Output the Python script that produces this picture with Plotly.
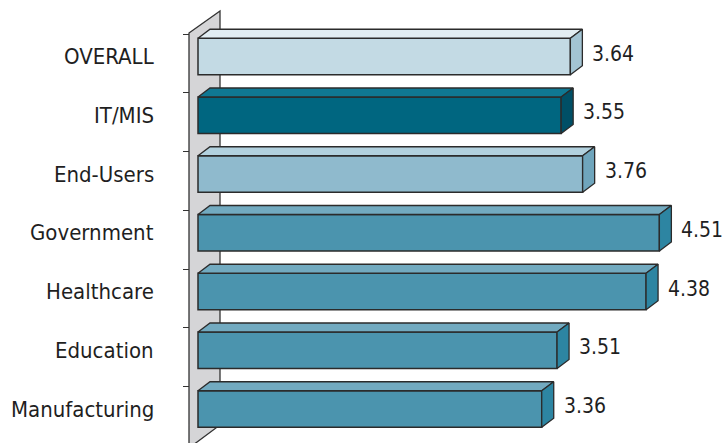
import plotly.graph_objects as go

# Survey scores by respondent group
categories = ["OVERALL", "IT/MIS", "End-Users", "Government", "Healthcare", "Education", "Manufacturing"]
scores = [3.64, 3.55, 3.76, 4.51, 4.38, 3.51, 3.36]
value_labels = ["3.64", "3.55", "3.76", "4.51", "4.38", "3.51", "3.36"]

# (front, top, side) colours per bar
palette = {
    "overall": ("#c3dae4", "#e2edf2", "#a3c4d3"),
    "it": ("#006680", "#0f7893", "#004f66"),
    "users": ("#8fbacd", "#b2d1de", "#6fa5bc"),
    "sector": ("#4b94ae", "#72aac0", "#2d85a2"),
}
bar_style = ["overall", "it", "users", "sector", "sector", "sector", "sector"]

W, H = 722, 443
PX_X = 102.3            # pixels per score unit
X0_PX = 198.0           # pixel position of score 0
PX_Y = 58.75            # pixels per category slot
Y0_PX = 56.5            # pixel centre of first category

x_range = [-X0_PX / PX_X, (W - X0_PX) / PX_X]
y_range = [(H - Y0_PX) / PX_Y, -Y0_PX / PX_Y]   # reversed: first category on top

bar_w = 36.5 / PX_Y
dx = 12 / PX_X          # depth offset (right)
dy = 9 / PX_Y           # depth offset (up)
edge = "#2b2b2b"
font_family = "DejaVu Sans Condensed, Liberation Sans Narrow, sans-serif"

ys = list(range(len(categories)))
fig = go.Figure()

# front faces
fig.add_trace(go.Bar(
    x=scores, y=ys, orientation="h", width=bar_w,
    marker=dict(color=[palette[s][0] for s in bar_style], line=dict(color=edge, width=1.5)),
    hoverinfo="skip", showlegend=False,
))

# top and side faces
for yi, v, s in zip(ys, scores, bar_style):
    _, top_c, side_c = palette[s]
    t = yi - bar_w / 2
    b = yi + bar_w / 2
    fig.add_trace(go.Scatter(
        x=[0, v, v + dx, dx, 0], y=[t, t, t - dy, t - dy, t],
        fill="toself", fillcolor=top_c, mode="lines",
        line=dict(color=edge, width=1.3), hoverinfo="skip", showlegend=False,
    ))
    fig.add_trace(go.Scatter(
        x=[v, v + dx, v + dx, v, v], y=[t, t - dy, b - dy, b, t],
        fill="toself", fillcolor=side_c, mode="lines",
        line=dict(color=edge, width=1.3), hoverinfo="skip", showlegend=False,
    ))

# back wall behind the bars
wl, wr = -9 / PX_X, 22 / PX_X
w_top_l, w_top_r = (33 - Y0_PX) / PX_Y, (11 - Y0_PX) / PX_Y
w_bot_l, w_bot_r = (448 - Y0_PX) / PX_Y, (425 - Y0_PX) / PX_Y
fig.add_shape(
    type="path", xref="x", yref="y", layer="below",
    path=f"M {wl},{w_top_l} L {wr},{w_top_r} L {wr},{w_bot_r} L {wl},{w_bot_l} Z",
    fillcolor="#d5d5d7", line=dict(color="#333333", width=1.3),
)

annotations = []
for yi, name in zip(ys, categories):
    annotations.append(dict(
        x=156 / W, xref="paper", y=yi, yref="y", text=name, showarrow=False,
        xanchor="right", yanchor="middle", font=dict(family=font_family, size=22, color="#1f1f1f"),
    ))
for yi, v, lab in zip(ys, scores, value_labels):
    annotations.append(dict(
        x=v, xref="x", y=yi, yref="y", text=lab, showarrow=False,
        xanchor="left", yanchor="middle", xshift=20, yshift=3,
        font=dict(family=font_family, size=21, color="#1f1f1f"),
    ))

tick_pos = [i - 0.383 for i in range(len(categories) + 1)]

fig.update_layout(
    width=W, height=H, margin=dict(l=0, r=0, t=0, b=0),
    paper_bgcolor="white", plot_bgcolor="white",
    xaxis=dict(range=x_range, visible=False, fixedrange=True),
    yaxis=dict(
        range=y_range, anchor="free", position=189 / W,
        tickmode="array", tickvals=tick_pos, ticks="outside", ticklen=6,
        tickcolor="#333333", tickwidth=1.3, showticklabels=False,
        showgrid=False, zeroline=False, showline=False, fixedrange=True,
    ),
    annotations=annotations,
    barmode="overlay",
)

fig.write_html("out.html")
